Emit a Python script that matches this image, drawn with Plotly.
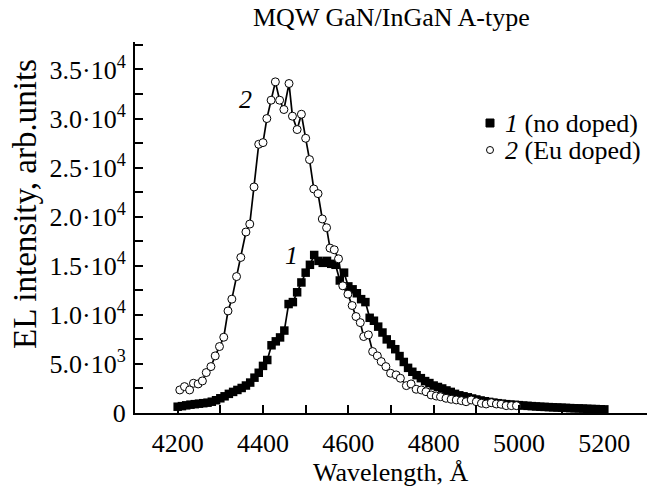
import plotly.graph_objects as go

# Series 1: no doped (filled squares)
wl1 = [4200, 4210, 4220, 4230, 4240, 4250, 4260, 4270, 4280, 4290,
       4300, 4310, 4320, 4330, 4340, 4350, 4360, 4370, 4380, 4390,
       4400, 4410, 4420, 4430, 4440, 4450, 4460, 4470, 4480, 4490,
       4500, 4510, 4520, 4530, 4540, 4550, 4560, 4570, 4580, 4590,
       4600, 4610, 4620, 4630, 4640, 4650, 4660, 4670, 4680, 4690,
       4700, 4710, 4720, 4730, 4740, 4750, 4760, 4770, 4780, 4790,
       4800, 4810, 4820, 4830, 4840, 4850, 4860, 4870, 4880, 4890,
       4900, 4910, 4920, 4930, 4940, 4950, 4960, 4970, 4980, 4990,
       5000, 5010, 5020, 5030, 5040, 5050, 5060, 5070, 5080, 5090,
       5100, 5110, 5120, 5130, 5140, 5150, 5160, 5170, 5180, 5190, 5200]
int1 = [640, 700, 780, 850, 900, 950, 1000, 1050, 1150, 1300,
        1500, 1700, 1950, 2150, 2350, 2550, 2800, 3100, 3600, 4100,
        4800, 5400, 6900, 7300, 7700, 8400, 11100, 11300, 12300, 13300,
        14300, 15100, 16100, 15500, 15300, 15500, 15200, 15100, 13500, 14300,
        12900, 12600, 12200, 11600, 11300, 9700, 9400, 8800, 8200, 7500,
        7000, 6500, 5800, 5200, 4600, 4200, 3850, 3550, 3250, 3050,
        2800, 2650, 2500, 2300, 2150, 1950, 1800, 1700, 1600, 1480,
        1380, 1280, 1200, 1130, 1060, 1000, 950, 900, 860, 830,
        800, 760, 730, 700, 670, 640, 620, 600, 580, 560,
        540, 520, 500, 480, 470, 450, 430, 410, 400, 380, 370]

# Series 2: Eu doped (open circles)
wl2 = [4205, 4216, 4228, 4237, 4248, 4258, 4267, 4278, 4288, 4298,
       4308, 4318, 4327, 4338, 4348, 4360, 4369, 4379, 4390, 4400,
       4409, 4419, 4429, 4439, 4449, 4461, 4469, 4480, 4490, 4500,
       4509, 4519, 4529, 4539, 4549, 4557, 4567, 4577, 4587, 4599,
       4609, 4618, 4628, 4636, 4647, 4657, 4668, 4677, 4688, 4699,
       4712, 4722, 4736, 4747, 4759, 4771, 4782, 4794, 4806, 4816,
       4829, 4841, 4853, 4865, 4876, 4888, 4900, 4912, 4923, 4935,
       4947, 4958, 4970, 4982, 4994]
int2 = [2350, 2690, 2350, 3030, 2960, 3270, 4120, 4730, 5820, 6770,
        7720, 10400, 11600, 13900, 15850, 18440, 19250, 23030, 27380, 27550,
        30000, 31870, 33740, 31870, 30920, 33570, 30240, 28880, 30440, 27990,
        25820, 22830, 22350, 19770, 18880, 16800, 16630, 15710, 12960, 12110,
        10950, 9830, 9210, 7790, 7960, 6260, 5820, 5240, 4730, 4050,
        3880, 3540, 2790, 2960, 2420, 2350, 2170, 1840, 1730, 1660,
        1500, 1400, 1330, 1260, 1150, 1330, 1150, 990, 920, 1050,
        920, 890, 750, 750, 750]

x_ticks = [4200, 4400, 4600, 4800, 5000, 5200]
y_ticks = [0, 5000, 10000, 15000, 20000, 25000, 30000, 35000]
y_ticktext = ["0", "5.0·10<sup>3</sup>", "1.0·10<sup>4</sup>", "1.5·10<sup>4</sup>",
              "2.0·10<sup>4</sup>", "2.5·10<sup>4</sup>", "3.0·10<sup>4</sup>",
              "3.5·10<sup>4</sup>"]

title_text = "MQW GaN/InGaN A-type"
x_title = "Wavelength, Å"
y_title = "EL intensity, arb.units"
legend_names = ["<i>1</i> (no doped)", "<i>2</i> (Eu doped)"]

FONT = "Liberation Serif, Times New Roman, serif"
FS = 26

fig = go.Figure()
fig.add_trace(go.Scatter(
    x=wl1, y=int1, mode="lines+markers", showlegend=False,
    line=dict(color="black", width=1.7),
    marker=dict(symbol="square", size=8.5, color="black"),
))
fig.add_trace(go.Scatter(
    x=wl2, y=int2, mode="lines+markers", showlegend=False,
    line=dict(color="black", width=1.7),
    marker=dict(symbol="circle", size=8, color="white",
                line=dict(color="black", width=1)),
))

L, R, T, B = 135, 1, 42, 74
W, H = 648, 487
pw, ph = W - L - R, H - T - B

def px2paper(px, py):
    return (px - L) / pw, (H - B - py) / ph

annotations = []
# Title
annotations.append(dict(text=title_text, xref="paper", yref="paper",
                        x=0.5, y=1, yshift=42 - 17, xanchor="center", yanchor="middle",
                        showarrow=False, font=dict(family=FONT, size=FS, color="black")))
# X axis title
annotations.append(dict(text=x_title, xref="paper", yref="paper",
                        x=0.5, y=0, yshift=-(472 - 413), xanchor="center", yanchor="middle",
                        showarrow=False, font=dict(family=FONT, size=FS, color="black")))
# Y axis title
yx, yy = px2paper(25, 204)
annotations.append(dict(text=y_title, xref="paper", yref="paper",
                        x=yx, y=yy, textangle=-90, xanchor="center", yanchor="middle",
                        showarrow=False, font=dict(family=FONT, size=33, color="black")))
# Curve labels
annotations.append(dict(text="<i>2</i>", x=4359, y=31900, showarrow=False,
                        font=dict(family=FONT, size=FS, color="black")))
annotations.append(dict(text="<i>1</i>", x=4467, y=16000, showarrow=False,
                        font=dict(family=FONT, size=FS, color="black")))
# Legend texts
for name, py in zip(legend_names, [123, 150]):
    lx, ly = px2paper(503, py)
    annotations.append(dict(text=name, xref="paper", yref="paper", x=lx, y=ly,
                            xanchor="left", yanchor="middle", showarrow=False,
                            font=dict(family=FONT, size=FS, color="black")))

shapes = []
# legend symbols (square and circle, ~8 px)
sx, sy = px2paper(490, 123)
cx, cy = px2paper(490, 150)
hw, hh = 4 / pw, 4 / ph
shapes.append(dict(type="rect", xref="paper", yref="paper",
                   x0=sx - hw, x1=sx + hw, y0=sy - hh, y1=sy + hh,
                   fillcolor="black", line=dict(color="black", width=1)))
hw2, hh2 = 3.5 / pw, 3.5 / ph
shapes.append(dict(type="circle", xref="paper", yref="paper",
                   x0=cx - hw2, x1=cx + hw2, y0=cy - hh2, y1=cy + hh2,
                   fillcolor="white", line=dict(color="black", width=1)))

fig.update_layout(
    width=W, height=H,
    margin=dict(l=L, r=R, t=T, b=B, autoexpand=False),
    paper_bgcolor="white", plot_bgcolor="white",
    font=dict(family=FONT, size=FS, color="black"),
    showlegend=False,
    annotations=annotations,
    shapes=shapes,
    xaxis=dict(range=[4100, 5300], tickmode="array", tickvals=x_ticks,
               ticks="inside", ticklen=8, tickwidth=1.5, tickcolor="black",
               showline=True, linewidth=2, linecolor="black",
               showgrid=False, zeroline=False, ticklabelstandoff=6,
               tickfont=dict(family=FONT, size=FS, color="black"),
               minor=dict(tick0=4100, dtick=100, ticks="inside", ticklen=8,
                          tickwidth=1.5, tickcolor="black", showgrid=False)),
    yaxis=dict(range=[0, 37800], tickmode="array", tickvals=y_ticks,
               ticktext=y_ticktext,
               ticks="inside", ticklen=8, tickwidth=1.5, tickcolor="black",
               showline=True, linewidth=2, linecolor="black",
               showgrid=False, zeroline=False, ticklabelstandoff=2,
               tickfont=dict(family=FONT, size=FS, color="black"),
               minor=dict(tick0=0, dtick=2500, ticks="inside", ticklen=8,
                          tickwidth=1.5, tickcolor="black", showgrid=False)),
)

fig.write_html("out.html")
